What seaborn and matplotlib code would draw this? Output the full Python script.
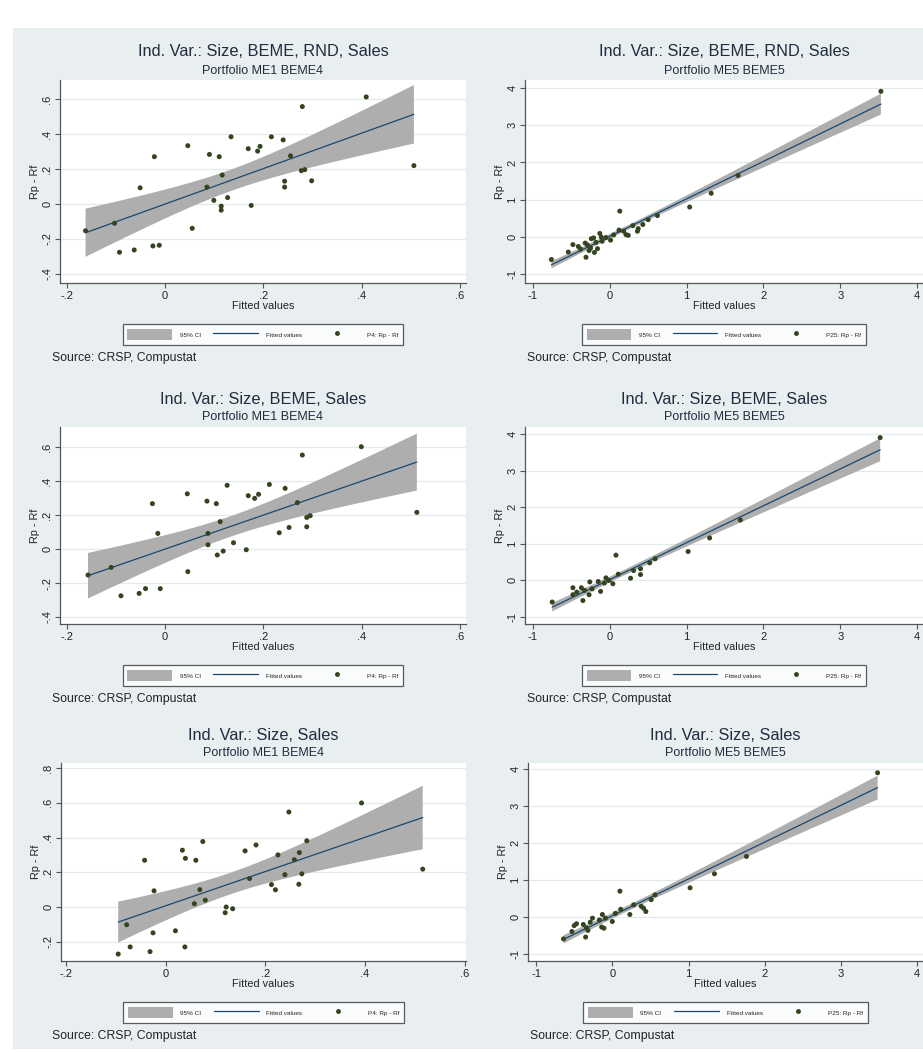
import numpy as np
import pandas as pd
import seaborn as sns
import matplotlib.pyplot as plt
from matplotlib.patches import Patch, Rectangle
from matplotlib.lines import Line2D

# --- data (fitted value, Rp - Rf) ---
# Portfolio ME1 BEME4, Size/BEME/RND/Sales
p4_rnd_x = [-0.162, -0.103, -0.093, -0.063, -0.051, -0.025, -0.022, -0.012, 0.046, 0.055,
            0.085, 0.090, 0.099, 0.110, 0.116, 0.114, 0.114, 0.127, 0.134, 0.169,
            0.175, 0.188, 0.193, 0.216, 0.240, 0.243, 0.243, 0.255, 0.279, 0.277,
            0.284, 0.298, 0.409, 0.506]
p4_rnd_y = [-0.153, -0.110, -0.276, -0.263, 0.093, -0.240, 0.271, -0.236, 0.334, -0.139,
            0.097, 0.284, 0.021, 0.271, 0.166, -0.012, -0.035, 0.037, 0.385, 0.317,
            -0.008, 0.303, 0.330, 0.385, 0.367, 0.131, 0.097, 0.276, 0.558, 0.191,
            0.197, 0.133, 0.613, 0.220]

# Portfolio ME1 BEME4, Size/BEME/Sales
p4_beme_x = [-0.157, -0.110, -0.090, -0.053, -0.040, -0.026, -0.015, -0.010, 0.045, 0.046,
             0.085, 0.087, 0.087, 0.104, 0.106, 0.112, 0.118, 0.126, 0.139, 0.165,
             0.169, 0.182, 0.190, 0.212, 0.232, 0.244, 0.252, 0.269, 0.279, 0.288,
             0.295, 0.288, 0.399, 0.512]
p4_beme_y = [-0.153, -0.108, -0.275, -0.261, -0.233, 0.267, 0.092, -0.233, 0.325, -0.133,
             0.282, 0.092, 0.025, 0.267, -0.035, 0.161, -0.012, 0.375, 0.037, -0.004,
             0.314, 0.298, 0.322, 0.380, 0.096, 0.357, 0.127, 0.273, 0.553, 0.186,
             0.196, 0.131, 0.602, 0.216]

# Portfolio ME1 BEME4, Size/Sales
p4_sales_x = [-0.096, -0.079, -0.072, -0.043, -0.032, -0.026, -0.024, 0.019, 0.033, 0.038,
              0.039, 0.057, 0.060, 0.068, 0.074, 0.079, 0.119, 0.121, 0.134, 0.159,
              0.168, 0.181, 0.212, 0.220, 0.225, 0.239, 0.247, 0.258, 0.268, 0.267,
              0.273, 0.283, 0.393, 0.516]
p4_sales_y = [-0.271, -0.102, -0.230, 0.269, -0.257, -0.149, 0.093, -0.137, 0.327, -0.230,
              0.280, 0.019, 0.269, 0.100, 0.377, 0.039, -0.033, 0.000, -0.010, 0.323,
              0.164, 0.357, 0.129, 0.099, 0.300, 0.186, 0.547, 0.272, 0.313, 0.131,
              0.191, 0.381, 0.599, 0.218]

# Portfolio ME5 BEME5, Size/BEME/RND/Sales
p25_rnd_x = [-0.76, -0.54, -0.48, -0.41, -0.31, -0.32, -0.29, -0.25, -0.24, -0.21,
             -0.20, -0.16, -0.13, -0.10, -0.11, -0.38, -0.27, -0.18, -0.05, 0.01,
             0.05, 0.13, 0.12, 0.18, 0.21, 0.24, 0.30, 0.36, 0.37, 0.43,
             0.50, 0.62, 1.04, 1.32, 1.67, 3.53]
p25_rnd_y = [-0.61, -0.41, -0.21, -0.26, -0.55, -0.17, -0.22, -0.30, -0.05, -0.03,
             -0.42, -0.32, 0.09, -0.12, -0.01, -0.33, -0.37, -0.15, -0.02, -0.09,
             0.05, 0.69, 0.18, 0.15, 0.06, 0.04, 0.30, 0.15, 0.22, 0.33,
             0.46, 0.57, 0.80, 1.17, 1.65, 3.91]

# Portfolio ME5 BEME5, Size/BEME/Sales
p25_beme_x = [-0.75, -0.48, -0.48, -0.43, -0.37, -0.35, -0.33, -0.27, -0.26, -0.23,
              -0.15, -0.12, -0.07, -0.05, -0.01, 0.04, 0.08, 0.11, 0.27, 0.31,
              0.40, 0.40, 0.52, 0.59, 1.02, 1.30, 1.70, 3.52]
p25_beme_y = [-0.59, -0.20, -0.39, -0.32, -0.20, -0.55, -0.27, -0.39, -0.04, -0.23,
              -0.03, -0.30, -0.07, 0.07, 0.00, -0.09, 0.69, 0.17, 0.06, 0.27,
              0.32, 0.16, 0.48, 0.59, 0.79, 1.16, 1.65, 3.90]

# Portfolio ME5 BEME5, Size/Sales
p25_sales_x = [-0.64, -0.53, -0.50, -0.47, -0.38, -0.35, -0.34, -0.32, -0.29, -0.26,
               -0.17, -0.14, -0.13, -0.11, -0.09, 0.00, 0.04, 0.10, 0.11, 0.23,
               0.28, 0.38, 0.41, 0.44, 0.51, 0.56, 1.02, 1.34, 1.76, 3.48]
p25_sales_y = [-0.60, -0.40, -0.24, -0.19, -0.21, -0.55, -0.30, -0.37, -0.15, -0.04,
               -0.09, -0.28, 0.06, -0.31, -0.04, -0.13, 0.09, 0.69, 0.20, 0.06,
               0.32, 0.28, 0.23, 0.14, 0.46, 0.59, 0.78, 1.16, 1.63, 3.89]

titles = ["Ind. Var.: Size, BEME, RND, Sales", "Ind. Var.: Size, BEME, RND, Sales",
          "Ind. Var.: Size, BEME, Sales", "Ind. Var.: Size, BEME, Sales",
          "Ind. Var.: Size, Sales", "Ind. Var.: Size, Sales"]
subtitles = ["Portfolio ME1 BEME4", "Portfolio ME5 BEME5"] * 3
scatter_labels = ["P4: Rp - Rf", "P25: Rp - Rf"] * 3

left_xticks = [-0.2, 0, 0.2, 0.4, 0.6]
left_yticks = [-0.4, -0.2, 0, 0.2, 0.4, 0.6]
left_yticks_low = [-0.2, 0, 0.2, 0.4, 0.6, 0.8]
right_ticks = [-1, 0, 1, 2, 3, 4]


def stata_fmt(v):
    s = f"{v:g}"
    return s.replace("0.", ".")


def ols_band(x, y, n=100):
    # 95% CI of the fitted mean, like Stata's lfitci
    x = np.asarray(x, float)
    y = np.asarray(y, float)
    b1, b0 = np.polyfit(x, y, 1)
    resid = y - (b0 + b1 * x)
    dof = len(x) - 2
    s = np.sqrt(resid @ resid / dof)
    grid = np.linspace(x.min(), x.max(), n)
    se = s * np.sqrt(1 / len(x) + (grid - x.mean()) ** 2 / ((x - x.mean()) ** 2).sum())
    t = 1.96 + 2.4 / dof
    fit = b0 + b1 * grid
    return grid, fit - t * se, fit + t * se


W, H = 923, 1053
BG = "#e9eff1"
NAVY = "#1a476f"
CI_GRAY = "#aeaeae"
GREEN = "#34441f"
GRID = "#e3eaec"
TXT = "#222222"

sns.set_theme(style="white")
plt.rcParams["font.family"] = ["Liberation Sans", "DejaVu Sans"]

fig = plt.figure(figsize=(W / 100, H / 100), dpi=100)
fig.patch.set_facecolor("white")
fig.add_artist(Rectangle((13 / W, 1 - 1049 / H), (W - 13) / W, (1049 - 28) / H,
                         transform=fig.transFigure, facecolor=BG, edgecolor="none", zorder=0))

# plot boxes in pixels (x0, y0, x1, y1) and axis limits
boxes = [(60, 80, 466, 283), (525, 80, 923, 283),
         (60, 427, 466, 624), (525, 427, 923, 624),
         (61, 763, 466, 961), (528, 763, 923, 961)]
xlims = [(-0.214, 0.612), (-1.104, 4.078),
         (-0.214, 0.612), (-1.104, 4.078),
         (-0.211, 0.603), (-1.106, 4.076)]
ylims = [(-0.452, 0.71), (-1.242, 4.215),
         (-0.441, 0.718), (-1.19, 4.19),
         (-0.311, 0.829), (-1.197, 4.154)]
src_x = [52, 527, 52, 527, 52, 530]

data = [(p4_rnd_x, p4_rnd_y), (p25_rnd_x, p25_rnd_y),
        (p4_beme_x, p4_beme_y), (p25_beme_x, p25_beme_y),
        (p4_sales_x, p4_sales_y), (p25_sales_x, p25_sales_y)]

for i, (x, y) in enumerate(data):
    x0, y0, x1, y1 = boxes[i]
    ax = fig.add_axes([x0 / W, 1 - y1 / H, (x1 - x0) / W, (y1 - y0) / H])
    ax.set_facecolor("white")
    df = pd.DataFrame({"fitted": x, "ret": y})

    grid, lo, hi = ols_band(x, y)
    ax.fill_between(grid, lo, hi, facecolor=CI_GRAY, edgecolor="none", zorder=2)
    sns.regplot(data=df, x="fitted", y="ret", ax=ax, scatter=False, ci=None,
                color=NAVY, line_kws=dict(lw=0.9, zorder=3))
    sns.scatterplot(data=df, x="fitted", y="ret", ax=ax, color=GREEN, s=13,
                    edgecolor="none", zorder=4)

    ax.set_xlim(*xlims[i])
    ax.set_ylim(*ylims[i])
    if i % 2 == 0:
        xt = left_xticks
        yt = left_yticks_low if i == 4 else left_yticks
        ax.set_xticks(xt)
        ax.set_xticklabels([stata_fmt(v) for v in xt])
        ax.set_yticks(yt)
        ax.set_yticklabels([stata_fmt(v) for v in yt], rotation=90, va="center")
    else:
        ax.set_xticks(right_ticks)
        ax.set_xticklabels([str(v) for v in right_ticks])
        ax.set_yticks(right_ticks)
        ax.set_yticklabels([str(v) for v in right_ticks], rotation=90, va="center")

    ax.yaxis.grid(True, color=GRID, lw=0.9)
    ax.xaxis.grid(False)
    ax.set_axisbelow(True)
    for s in ["top", "right"]:
        ax.spines[s].set_visible(False)
    for s in ["left", "bottom"]:
        ax.spines[s].set_color("#555555")
        ax.spines[s].set_linewidth(0.9)
    ax.tick_params(axis="both", direction="out", length=3.5, width=0.8, color="#555555",
                   labelsize=8, labelcolor=TXT, pad=2, bottom=True, left=True)
    ax.set_xlabel("Fitted values", fontsize=7.8, color=TXT, labelpad=0)
    ax.set_ylabel("Rp - Rf", fontsize=7.8, color=TXT, labelpad=2)

    cx = (x0 + x1) / 2
    fig.text(cx / W, 1 - (y0 - 28) / H, titles[i], ha="center", va="center",
             fontsize=11.8, color="#1f2d3d")
    fig.text(cx / W, 1 - (y0 - 9.5) / H, subtitles[i], ha="center", va="center",
             fontsize=9, color="#1f2d3d")
    fig.text(src_x[i] / W, 1 - (y1 + 75) / H, "Source: CRSP, Compustat", ha="left",
             va="center", fontsize=8.8, color=TXT)

    handles = [Patch(facecolor=CI_GRAY, edgecolor="none", label="95% CI"),
               Line2D([], [], color=NAVY, lw=0.9, label="Fitted values"),
               Line2D([], [], ls="none", marker="o", ms=2.5, color=GREEN,
                      label=scatter_labels[i])]
    leg = ax.legend(handles=handles, loc="upper center",
                    bbox_to_anchor=(0.5, -38 / (y1 - y0)), ncol=3, fontsize=4.6,
                    frameon=True, fancybox=False, edgecolor="#333333",
                    handlelength=7, handleheight=2.3, columnspacing=2.0,
                    handletextpad=1.2, borderpad=0.75)
    leg.get_frame().set_linewidth(0.9)
    leg.get_frame().set_facecolor("white")

fig.savefig("out.png", dpi=100, facecolor=fig.get_facecolor())
